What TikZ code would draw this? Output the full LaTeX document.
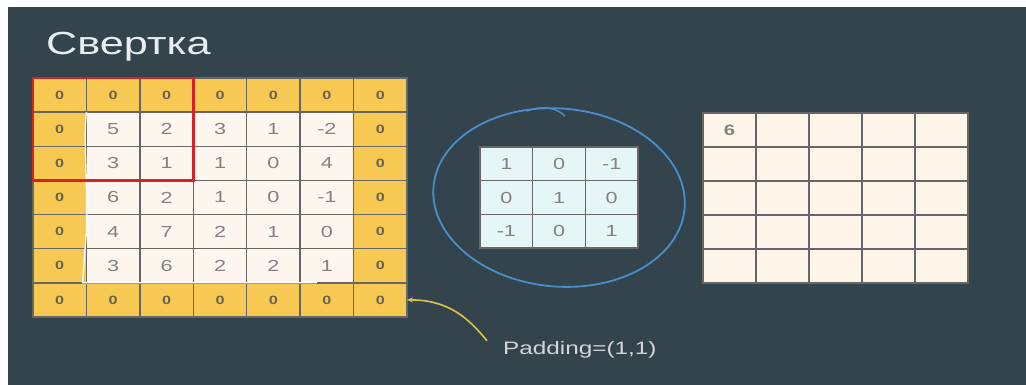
\documentclass[tikz,border=0pt]{standalone}
\usepackage{fontspec}
\setmainfont[FakeStretch=1.35]{Liberation Sans}
\usetikzlibrary{arrows.meta}

\definecolor{slate}{RGB}{52,68,77}
\definecolor{padyellow}{RGB}{247,201,82}
\definecolor{cellwhite}{RGB}{252,246,238}
\definecolor{kernelcyan}{RGB}{230,246,246}
\definecolor{outcream}{RGB}{253,245,234}
\definecolor{numgray}{RGB}{130,130,130}
\definecolor{zerogray}{RGB}{105,99,84}
\definecolor{titlewhite}{RGB}{232,238,240}
\definecolor{labelgray}{RGB}{210,214,216}
\definecolor{loopblue}{RGB}{72,142,204}
\definecolor{curveyellow}{RGB}{222,196,70}
\definecolor{redbox}{RGB}{215,35,40}

\begin{document}
\begin{tikzpicture}[x=1pt,y=-1pt,
  cell/.style={draw=black!60, line width=1.5pt, minimum width=53.4pt, minimum height=34.1pt,
    inner sep=0pt, outer sep=0pt, text=numgray, font=\fontsize{16}{16}\selectfont},
  padcell/.style={cell, fill=padyellow, text=zerogray, font=\bfseries\fontsize{12}{12}\selectfont},
  datacell/.style={cell, fill=cellwhite},
  kcell/.style={cell, fill=kernelcyan, minimum width=52.7pt, minimum height=33.7pt},
  ocell/.style={cell, fill=outcream, minimum width=53pt, minimum height=34pt}]
\useasboundingbox (0,0) rectangle (1026,385);
\fill[slate] (8,7) rectangle (1026,385);   % slide background

\node[anchor=base west, inner sep=0pt, text=titlewhite, font=\fontsize{32}{32}\selectfont] (title) at (46,55) {Свертка};

% input with padding
\foreach \r/\row in {0/{0,0,0,0,0,0,0},1/{0,5,2,3,1,-2,0},2/{0,3,1,1,0,4,0},3/{0,6,2,1,0,-1,0},
                     4/{0,4,7,2,1,0,0},5/{0,3,6,2,2,1,0},6/{0,0,0,0,0,0,0}}
  \foreach \v [count=\c from 0] in \row {
    \pgfmathtruncatemacro\rim{(\r==0)||(\r==6)||(\c==0)||(\c==6)}
    \ifnum\rim=1 \tikzset{here/.style={padcell}}\else\tikzset{here/.style={datacell}}\fi
    \node[here] (p-\r-\c) at ({33+53.43*(\c+0.5)},{78+34.14*(\r+0.5)}) {\v};
  }
\draw[white, line width=1.3pt, line join=round] (p-1-1.north west) .. controls +(-3,25) and +(1,-60) .. (p-4-1.west)
  -- ([xshift=-4pt]p-5-1.south west) -- ([xshift=-10pt]p-5-5.south);
\draw[redbox, line width=2.5pt] (p-0-0.north west) rectangle (p-2-2.south east);

% kernel
\foreach \r/\row in {0/{1,0,-1},1/{0,1,0},2/{-1,0,1}}
  \foreach \v [count=\c from 0] in \row
    \node[kcell] (k-\r-\c) at ({480+52.7*(\c+0.5)},{147+33.7*(\r+0.5)}) {\v};
\draw[loopblue, line width=1.8pt] (k-1-1) ellipse [x radius=126, y radius=89, rotate=-5];
\draw[loopblue, line width=1.5pt] (527,111) .. controls (543,105) and (557,108) .. (565,116);

% output
\foreach \r in {0,...,4}
  \foreach \c in {0,...,4}
    \node[ocell] (o-\r-\c) at ({703+53*(\c+0.5)},{113+34*(\r+0.5)}) {};
\node[text=numgray, font=\bfseries\fontsize{15}{15}\selectfont] (six) at (o-0-0) {6};

\node[anchor=base west, inner sep=0pt, text=labelgray, font=\fontsize{18}{18}\selectfont] (pad) at (503,354) {Padding=(1,1)};
\draw[curveyellow, line width=1.6pt, {Stealth[length=6pt,width=5pt]}-] (p-6-6.east)
  .. controls +(42,0) and +(-18,-22) .. ([xshift=-16pt]pad.north west);
\end{tikzpicture}
\end{document}
